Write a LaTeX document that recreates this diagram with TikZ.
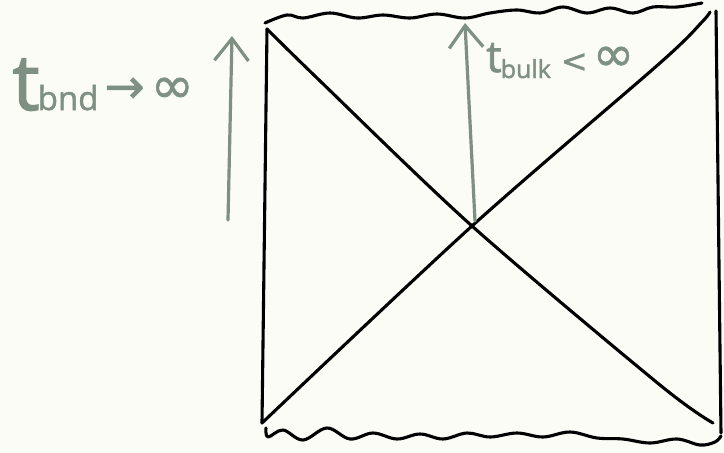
\documentclass[tikz,border=0pt]{standalone}
\usepackage{fontspec}
\setmainfont{Open Sans}
\newfontfamily\handfont[FakeBold=1.5]{Open Sans}
\newfontfamily\symfont[FakeBold=1]{DejaVu Sans}
\usetikzlibrary{arrows.meta}
\definecolor{paper}{HTML}{FBFCF6}
\definecolor{sage}{HTML}{7E9082}
\tikzset{
  ink/.style={line width=3.1pt, black, line cap=round, line join=round},
  sagearrow/.style={line width=3.2pt, sage, line cap=round, -{Straight Barb[length=22pt,width=34pt,line width=3.2pt]}},
  lbl/.style={text=sage, inner sep=0pt, anchor=base west}
}
\begin{document}
\begin{tikzpicture}[x=1pt,y=-1pt]
\fill[paper] (0,0) rectangle (724,453);
\useasboundingbox (0,0) rectangle (724,453);
% corners
\coordinate (TL) at (267,29);
\coordinate (BL) at (262,423);
\coordinate (TR) at (710,12);
\coordinate (BR) at (713,423);
\coordinate (RT) at (716,11);
\coordinate (RB) at (721,433);
\coordinate (C) at (472,226);
% square sides
\draw[ink] (TL) -- (BL);
\draw[ink] (RT) -- (RB);
\draw[ink] plot[smooth, tension=0.5] coordinates {(TL) (317,78) (C) (660,385) (BR)};
\draw[ink] plot[smooth, tension=0.5] coordinates {(TR) (702,22) (660,63) (C) (BL)};
% wavy top
\draw[ink] plot[smooth, tension=0.6] coordinates {(265,23) (287,15) (303,18) (330,13) (357,18) (383,15) (410,18) (437,14) (465,18) (490,13) (517,10) (540,13) (563,7) (587,13) (610,8) (633,13) (653,7) (677,7) (702,3)};
% wavy bottom
\draw[ink] plot[smooth, tension=0.6] coordinates {(266,428) (268,437) (283,430) (303,440) (327,428) (350,439) (373,433) (397,439) (420,434) (443,439) (467,433) (490,437) (517,433) (543,437) (570,432) (597,438) (623,439) (650,443) (677,439) (700,445) (715,442) (721,436)};
% arrows
\coordinate (A1s) at (228,220);
\coordinate (A1e) at (232,36);
\draw[sagearrow] (A1s) -- (A1e);
\coordinate (A2s) at (475,221);
\coordinate (A2e) at (465,23);
\draw[sagearrow] (A2s) -- (A2e);
% labels
\node[lbl] (tbnd) at (12,110) {\handfont\fontsize{78}{78}\selectfont t\kern-2pt{\fontsize{33}{33}\selectfont bnd}\kern6pt\raisebox{7pt}{\symfont\fontsize{48}{48}\selectfont →}\kern6pt\raisebox{7pt}{\symfont\fontsize{52}{52}\selectfont ∞}};
\node[lbl] (tbulk) at (486,72) {\handfont\fontsize{44}{44}\selectfont t\kern-1pt\raisebox{-6pt}{\fontsize{25}{25}\selectfont bulk}\kern10pt\raisebox{0pt}{\symfont\fontsize{32}{32}\selectfont <}\kern5pt\raisebox{1pt}{\symfont\fontsize{50}{50}\selectfont ∞}};
\end{tikzpicture}
\end{document}
